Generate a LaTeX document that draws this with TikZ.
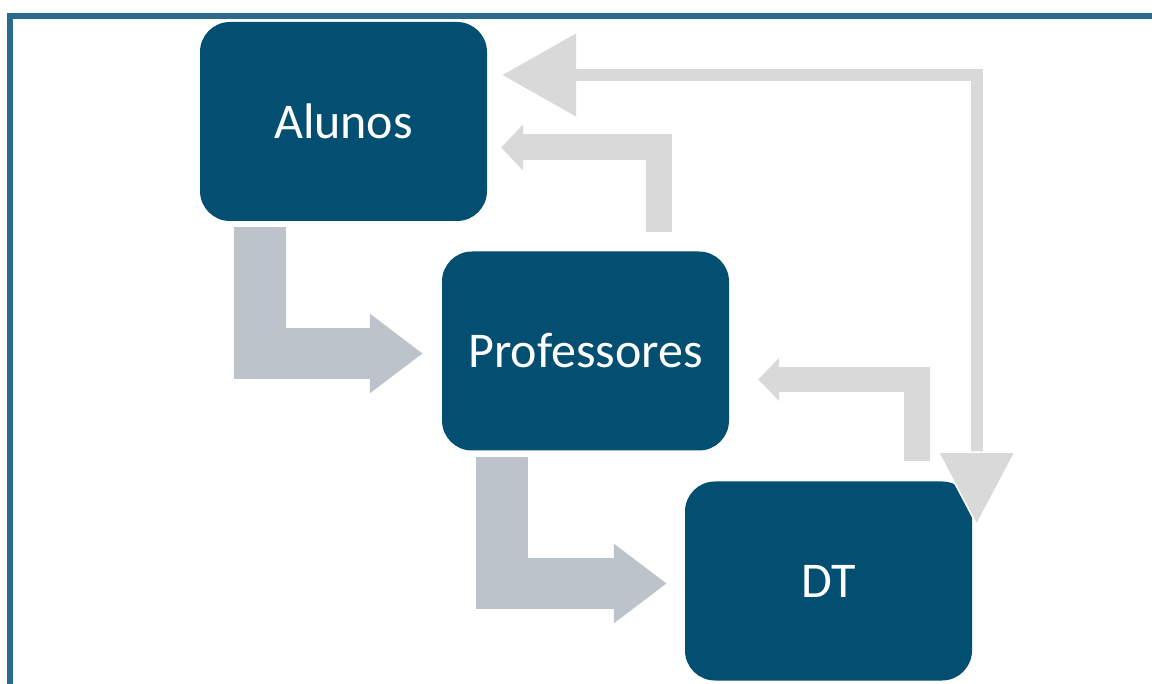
\documentclass[tikz,border=0pt]{standalone}
\usepackage{fontspec}
\setmainfont{Carlito}
\usetikzlibrary{arrows.meta}
\definecolor{boxblue}{RGB}{3,79,114}
\definecolor{framblue}{RGB}{44,106,140}
\definecolor{darkgray}{RGB}{188,195,202}
\definecolor{lightgray}{RGB}{217,217,217}
\begin{document}
\begin{tikzpicture}[x=1pt, y=-1pt,
    box/.style={draw=none, fill=boxblue, rounded corners=30pt, minimum width=287pt,
        minimum height=199pt, inner sep=0pt, text=white, font=\fontsize{50}{60}\selectfont},
    flowarrow/.style={draw=darkgray, line width=51.5pt,
        -{Triangle[length=53pt, width=76pt]}},
    backarrow/.style={draw=lightgray, line width=26pt,
        -{Triangle[length=22pt, width=45pt]}},
    loop arrow/.style={draw=lightgray, line width=12pt,
        {Triangle[length=74pt, width=80pt]}-%
        {Triangle[length=75pt, width=79pt, fill=lightgray, color=white, line width=1.5pt]}}]
    \clip (0,0) rectangle (1152,684);
    \fill[white] (0,0) rectangle (1152,684);

    % Frame
    \draw[framblue, line width=5.5pt] (10,16) rectangle (1180,720);

    % Boxes
    \node[box] (alunos) at (343.5,121.5) {Alunos};
    \node[box] (prof) at (585.5,351) {Professores};
    \node[box] (dt) at (828.5,581) {DT};

    % Forward arrows
    \draw[flowarrow] ([xshift=-83.5pt, yshift=-6pt]alunos.south)
        |- ([xshift=-19pt, yshift=-2.5pt]prof.west);
    \draw[flowarrow] ([xshift=-83.5pt, yshift=-6pt]prof.south)
        |- ([xshift=-18pt, yshift=-2.5pt]dt.west);

    % Feedback arrows
    \draw[backarrow] ([xshift=73.5pt, yshift=19.5pt]prof.north)
        |- ([xshift=14pt, yshift=-26pt]alunos.east);
    \draw[backarrow, line width=25.5pt, -{Triangle[length=21pt, width=42pt]}]
        ([xshift=88.5pt, yshift=20.5pt]dt.north)
        |- ([xshift=29pt, yshift=-28.5pt]prof.east);

    % Loop between Alunos and DT
    \draw[loop arrow] ([xshift=15pt, yshift=46.5pt]alunos.east)
        -| ([xshift=4.5pt, yshift=-45pt]dt.north east);
\end{tikzpicture}
\end{document}
